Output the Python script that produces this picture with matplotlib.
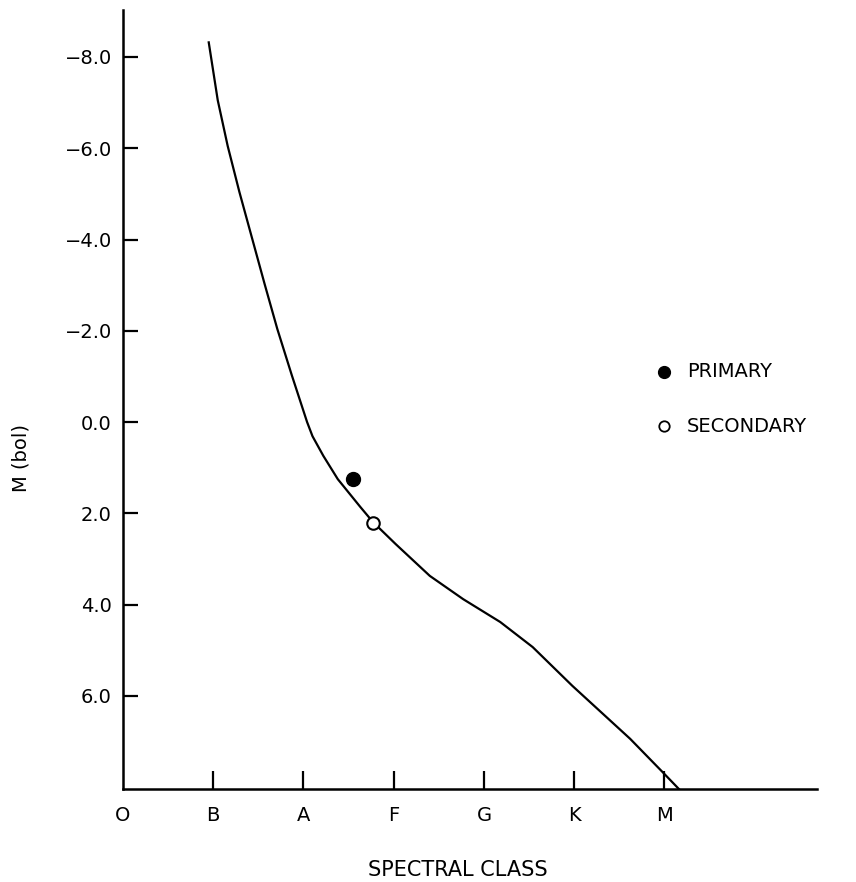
import numpy as np
import matplotlib
matplotlib.use("Agg")
import matplotlib.pyplot as plt

# Spectral classes along x (O=0 ... M=6), absolute bolometric magnitude on y
classes = ["O", "B", "A", "F", "G", "K", "M"]
mag_ticks = [-8.0, -6.0, -4.0, -2.0, 0.0, 2.0, 4.0, 6.0]

# main sequence curve
ms_class = [0.95, 1.05, 1.16, 1.29, 1.43, 1.57, 1.71, 1.87, 2.04, 2.10,
            2.22, 2.38, 2.63, 2.77, 3.02, 3.40, 3.77, 4.18, 4.54, 4.98,
            5.30, 5.62, 5.98, 6.17]
ms_mag = [-8.32, -7.05, -6.05, -5.04, -4.03, -3.02, -2.04, -1.03, 0.00, 0.31,
          0.74, 1.25, 1.86, 2.19, 2.67, 3.37, 3.88, 4.38, 4.93, 5.78,
          6.36, 6.94, 7.67, 8.06]

# binary components
primary = (2.55, 1.25)
secondary = (2.77, 2.21)

fig = plt.figure(figsize=(8.56, 8.82), dpi=100)
ax = fig.add_axes([0.1437, 0.1054, 0.9544 - 0.1437, 0.9887 - 0.1054])

ax.plot(ms_class, ms_mag, color="black", lw=1.6, solid_joinstyle="round")
ax.plot(*primary, "o", color="black", ms=10)
ax.plot(*secondary, "o", mfc="white", mec="black", mew=1.5, ms=9)

# legend drawn as text, like the original
ax.plot(6.0, -1.10, "o", color="black", ms=8.5)
ax.text(6.25, -1.10, "PRIMARY", fontsize=14, va="center", ha="left")
ax.plot(6.0, 0.09, "o", mfc="white", mec="black", mew=1.3, ms=7.5)
ax.text(6.25, 0.09, "SECONDARY", fontsize=14, va="center", ha="left")

ax.set_xlim(0, 7.69)
ax.set_ylim(8.04, -9.03)

ax.set_xticks(range(len(classes)))
ax.set_xticklabels(classes, fontsize=14)
ax.set_yticks(mag_ticks)
ax.set_yticklabels([("%.1f" % v).replace("-", "\u2212") for v in mag_ticks], fontsize=14)

ax.tick_params(axis="x", direction="in", length=13, width=1.6, pad=12)
ax.tick_params(axis="y", direction="in", length=11, width=1.6, pad=8)
ax.xaxis.get_major_ticks()[0].tick1line.set_visible(False)

for side in ["top", "right"]:
    ax.spines[side].set_visible(False)
for side in ["left", "bottom"]:
    ax.spines[side].set_linewidth(1.8)

fig.text(458 / 856, 1 - 870 / 882, "SPECTRAL CLASS", fontsize=15, ha="center", va="center")
fig.text(21 / 856, 1 - 458 / 882, "M (bol)", fontsize=14, ha="center", va="center", rotation=90)

fig.savefig("out.png", dpi=100)
